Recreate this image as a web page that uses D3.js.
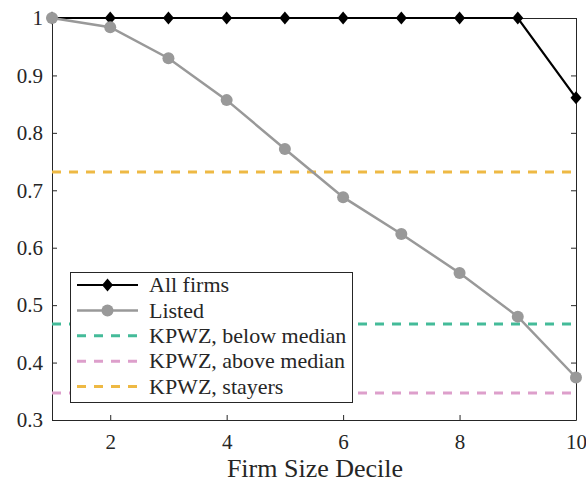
<!DOCTYPE html>
<html>
<head>
<meta charset="utf-8">
<script src="https://cdn.jsdelivr.net/npm/d3@7"></script>
<style>
  body { margin: 0; background: #fff; }
  svg { display: block; font-family: "Liberation Serif", "DejaVu Serif", serif; }
  .axis path, .axis line { stroke: #262626; }
  .axis text { fill: #262626; font-size: 21px; font-family: "Liberation Serif", serif; }
</style>
</head>
<body>
<svg id="chart" width="586" height="484"></svg>
<script>
// deciles on the x axis
const deciles = [1, 2, 3, 4, 5, 6, 7, 8, 9, 10];
const allFirms = [1, 1, 1, 1, 1, 1, 1, 1, 1, 0.861];
const listed = [1, 0.984, 0.930, 0.857, 0.772, 0.688, 0.624, 0.556, 0.480, 0.374];
// KPWZ reference levels
const kpwzBelow = 0.467;
const kpwzAbove = 0.347;
const kpwzStayers = 0.732;
const yTicks = [0.3, 0.4, 0.5, 0.6, 0.7, 0.8, 0.9, 1];
const xTicks = [2, 4, 6, 8, 10];
const legendLabels = ["All firms", "Listed", "KPWZ, below median", "KPWZ, above median", "KPWZ, stayers"];

const svg = d3.select("#chart");
const plotL = 52, plotR = 576, plotT = 18, plotB = 420;

const x = d3.scaleLinear().domain([1, 10]).range([plotL, plotR]);
const y = d3.scaleLinear().domain([0.3, 1]).range([plotB, plotT]);

const fmt = d => d === 1 ? "1" : d3.format(".1f")(d);

// axes box, ticks point inward
svg.append("g").attr("class", "axis")
    .attr("transform", "translate(" + plotL + ",0)")
    .call(d3.axisLeft(y).tickValues(yTicks).tickFormat(fmt).tickSizeInner(-5).tickSizeOuter(0).tickPadding(9));
svg.append("g").attr("class", "axis")
    .attr("transform", "translate(" + plotR + ",0)")
    .call(d3.axisRight(y).tickValues(yTicks).tickFormat("").tickSizeInner(-5).tickSizeOuter(0));
svg.append("g").attr("class", "axis")
    .attr("transform", "translate(0," + plotB + ")")
    .call(d3.axisBottom(x).tickValues(xTicks).tickFormat(d3.format("d")).tickSizeInner(-5).tickSizeOuter(0).tickPadding(14));
svg.append("g").attr("class", "axis")
    .attr("transform", "translate(0," + plotT + ")")
    .call(d3.axisTop(x).tickValues(xTicks).tickFormat("").tickSizeInner(-5).tickSizeOuter(0));

svg.selectAll(".axis text").style("font-size", "21px");
svg.selectAll(".axis .domain").attr("stroke-width", 1);

// x title
svg.append("text")
    .attr("x", 315)
    .attr("y", 477)
    .attr("text-anchor", "middle")
    .attr("fill", "#262626")
    .style("font-size", "26px")
    .text("Firm Size Decile");

// KPWZ dashed levels
const hlines = [
    { v: kpwzBelow, color: "#44bb99" },
    { v: kpwzAbove, color: "#dd9fcb" },
    { v: kpwzStayers, color: "#eeb944" }
];
svg.selectAll(".hline").data(hlines).enter().append("line")
    .attr("x1", plotL).attr("x2", plotR)
    .attr("y1", d => y(d.v)).attr("y2", d => y(d.v))
    .attr("stroke", d => d.color)
    .attr("stroke-width", 3)
    .attr("stroke-dasharray", "9,8");

const line = d3.line().x((d, i) => x(deciles[i])).y(d => y(d));

// all firms
svg.append("path").datum(allFirms)
    .attr("d", line).attr("fill", "none")
    .attr("stroke", "#000").attr("stroke-width", 2.2);
const diamond = "M0,-6.5L5.5,0L0,6.5L-5.5,0Z";
svg.selectAll(".dia").data(allFirms).enter().append("path")
    .attr("d", diamond)
    .attr("transform", (d, i) => "translate(" + x(deciles[i]) + "," + y(d) + ")")
    .attr("fill", "#000");

// listed
svg.append("path").datum(listed)
    .attr("d", line).attr("fill", "none")
    .attr("stroke", "#999").attr("stroke-width", 2.5);
svg.selectAll(".dot").data(listed).enter().append("circle")
    .attr("cx", (d, i) => x(deciles[i]))
    .attr("cy", d => y(d))
    .attr("r", 6)
    .attr("fill", "#999");

// legend
const lg = svg.append("g");
lg.append("rect")
    .attr("x", 70.5).attr("y", 272.5)
    .attr("width", 282).attr("height", 130)
    .attr("fill", "#fff").attr("stroke", "#262626").attr("stroke-width", 1);

const legendStyle = [
    { color: "#000", dash: null, width: 2.2, marker: "diamond" },
    { color: "#999", dash: null, width: 2.5, marker: "circle" },
    { color: "#44bb99", dash: "9,8", width: 3 },
    { color: "#dd9fcb", dash: "9,8", width: 3 },
    { color: "#eeb944", dash: "9,8", width: 3 }
];
legendLabels.forEach((lab, i) => {
    const ly = 285 + i * 25.4;
    const s = legendStyle[i];
    lg.append("line")
        .attr("x1", 77).attr("x2", 138)
        .attr("y1", ly).attr("y2", ly)
        .attr("stroke", s.color).attr("stroke-width", s.width)
        .attr("stroke-dasharray", s.dash);
    if (s.marker === "diamond") {
        lg.append("path").attr("d", diamond)
            .attr("transform", "translate(107.5," + ly + ")").attr("fill", "#000");
    } else if (s.marker === "circle") {
        lg.append("circle").attr("cx", 107.5).attr("cy", ly).attr("r", 6).attr("fill", "#999");
    }
    lg.append("text")
        .attr("x", 149).attr("y", ly)
        .attr("dy", "0.33em")
        .attr("fill", "#262626")
        .style("font-size", "22px")
        .text(lab);
});
</script>
</body>
</html>
